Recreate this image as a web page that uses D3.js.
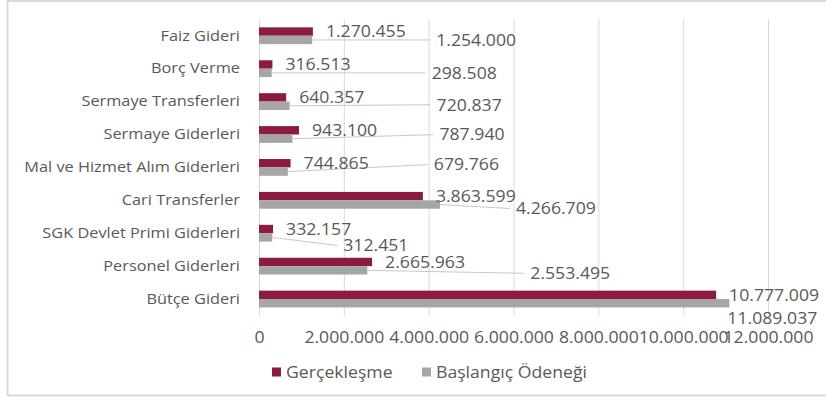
<!DOCTYPE html>
<html><head><meta charset="utf-8">
<script src="https://cdn.jsdelivr.net/npm/d3@7"></script>
<style>
html,body{margin:0;padding:0;background:#fff;}
text{font-family:"Open Sans",sans-serif;fill:#595959;}
</style></head>
<body><svg id="c" width="826" height="400"></svg>
<script>
const categories = ["Faiz Gideri","Borç Verme","Sermaye Transferleri","Sermaye Giderleri","Mal ve Hizmet Alım Giderleri","Cari Transferler","SGK Devlet Primi Giderleri","Personel Giderleri","Bütçe Gideri"];
const gerceklesme = [1270455,316513,640357,943100,744865,3863599,332157,2665963,10777009];
const baslangic = [1254000,298508,720837,787940,679766,4266709,312451,2553495,11089037];
const seriesNames = ["Gerçekleşme","Başlangıç Ödeneği"];
const tickValues = [0,2000000,4000000,6000000,8000000,10000000,12000000];
// label placement for the second series (pixel offsets from bar end), as in the source layout
const grayLabelOffsets = [[124,0],[160,0],[147,-1],[147,-4],[146,-7],[76,4],[71,8],[163,3],[-2,15]];

const colors = ["#8B1C3F","#A6A6A6"];
const fmt = v => d3.format(",")(v).replace(/,/g,".");
const SX = 1.07, SXC = 1.09;

const svg = d3.select("#c");
svg.append("rect").attr("x",7.5).attr("y",1).attr("width",830).attr("height",394.5)
  .attr("fill","#fff").attr("stroke","#D9D9D9").attr("stroke-width",2);

const x = d3.scaleLinear().domain([0,12000000]).range([259,768]);
const y = d3.scaleBand().domain(categories).range([19.3,315.5]).paddingInner(0.49).paddingOuter(0.245);
const sub = d3.scaleBand().domain([0,1]).range([0,y.bandwidth()]);

// gridlines
svg.append("g").selectAll("line").data(tickValues).join("line")
  .attr("x1",d=>x(d)+0.5).attr("x2",d=>x(d)+0.5).attr("y1",19.3).attr("y2",315.5)
  .attr("stroke","#D9D9D9").attr("stroke-width",1);

// x axis tick labels
const xa = svg.append("g").attr("transform","translate(0,337)")
  .call(d3.axisBottom(x).tickValues(tickValues).tickFormat(fmt).tickSize(0).tickPadding(0));
xa.select(".domain").remove();
xa.selectAll("text").attr("font-size",16.5).attr("dy","0.35em").attr("y",0)
  .attr("transform",`scale(${SX},1)`)
  .style("font-family","'Open Sans',sans-serif").attr("fill","#595959");

// category labels
const ya = svg.append("g").attr("transform","translate(240,0)")
  .call(d3.axisLeft(y).tickSize(0).tickPadding(0));
ya.select(".domain").remove();
ya.selectAll("text").attr("font-size",15).attr("transform",`scale(${SXC},1)`)
  .style("font-family","'Open Sans',sans-serif").attr("fill","#595959");

const rows = categories.map((c,i)=>({c,i,v:[gerceklesme[i],baslangic[i]]}));

// bars
const g = svg.append("g");
[0,1].forEach(s=>{
  g.selectAll("rect.s"+s).data(rows).join("rect").attr("class","s"+s)
    .attr("x",x(0)).attr("y",d=>y(d.c)+sub(s))
    .attr("width",d=>x(d.v[s])-x(0)).attr("height",sub.bandwidth())
    .attr("fill",colors[s]);
});

// leader lines for gray labels
g.selectAll("line.lead").data(rows).join("line").attr("class","lead")
  .attr("x1",d=>x(d.v[1])).attr("y1",d=>y(d.c)+sub(1)+sub.bandwidth()/2)
  .attr("x2",d=>x(d.v[1])+grayLabelOffsets[d.i][0]-6)
  .attr("y2",d=>y(d.c)+sub(1)+sub.bandwidth()/2+grayLabelOffsets[d.i][1])
  .attr("stroke","#C8C8C8").attr("stroke-width",1)
  .style("display",d=>grayLabelOffsets[d.i][0]<20?"none":null);

// maroon labels
g.selectAll("text.l0").data(rows).join("text").attr("class","l0")
  .attr("transform",d=>`translate(${x(d.v[0])+13},${y(d.c)+sub(0)+sub.bandwidth()/2}) scale(${SX},1)`)
  .attr("dy","0.35em").attr("font-size",16.5).text(d=>fmt(d.v[0]));
// gray labels
g.selectAll("text.l1").data(rows).join("text").attr("class","l1")
  .attr("transform",d=>`translate(${x(d.v[1])+grayLabelOffsets[d.i][0]},${y(d.c)+sub(1)+sub.bandwidth()/2+grayLabelOffsets[d.i][1]}) scale(${SX},1)`)
  .attr("dy","0.35em").attr("font-size",16.5).text(d=>fmt(d.v[1]));

// legend
const legX = [272,422];
const lg = svg.append("g").selectAll("g").data(seriesNames).join("g")
  .attr("transform",(d,i)=>`translate(${legX[i]},372)`);
lg.append("rect").attr("x",0).attr("y",-4.5).attr("width",9).attr("height",9).attr("fill",(d,i)=>colors[i]);
lg.append("text").attr("transform",`translate(14,0) scale(${SX},1)`).attr("dy","0.35em").attr("font-size",16.5).text(d=>d);
</script></body></html>
